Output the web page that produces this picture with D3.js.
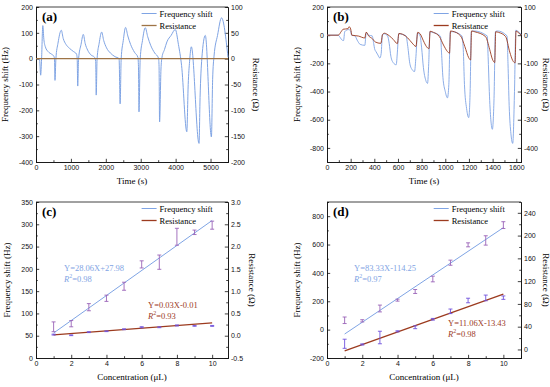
<!DOCTYPE html>
<html>
<head>
<meta charset="utf-8">
<script src="https://cdn.jsdelivr.net/npm/d3@7"></script>
<style>
  body { margin: 0; background: #fff; }
  svg { font-family: "Liberation Serif", "Times New Roman", serif; }
  .tick text { font-size: 7px; fill: #111; }
  .domain, .tick line { stroke: #111; stroke-width: 0.8; }
</style>
</head>
<body>
<script>
// ---- panel (a): time series
const timeA = [0,100,134,160,195,225,270,350,450,510,530,544,570,630,725,780,860,960,1070,1160,1180,1195,1220,1290,1355,1410,1480,1570,1680,1710,1725,1750,1810,1880,1940,2020,2130,2260,2380,2410,2440,2500,2566,2630,2710,2820,2920,2935,2950,2985,3050,3130,3200,3290,3400,3510,3525,3540,3580,3610,3680,3750,3870,3990,4080,4170,4320,4360,4400,4450,4670,4700,4750,4850,5025,5060,5100,5200,5314,5500]
const freqA = [0,0,-64,0,128,75,45,27,17,10,0,-84,0,60,110,78,55,40,28,18,0,-106,0,55,94,58,33,15,5,-10,-141,0,60,103,70,42,22,8,0,-175,0,70,121,88,55,25,5,-30,-206,0,70,120,85,50,22,2,-30,-245,-40,6,35,65,90,113,55,-26,-283,-100,-10,46,-328,-150,0,90,-303,-80,10,90,158,5]
const resTimeA = [0,1000,2000,3000,4000,5000,5500]
const resA = [0,0,0,0,0,0,0]

// ---- panel (b): time series
const timeB = [0,95,110,128,140,150,165,180,200,208,236,255,280,320,330,336,350,382,395,402,415,430,447,458,468,484,512,526,540,560,585,595,606,640,668,683,700,720,740,752,765,787,800,815,835,850,860,870,890,940,960,968,980,1000,1018,1030,1042,1060,1140,1152,1162,1180,1198,1210,1220,1240,1354,1362,1372,1385,1398,1412,1424,1440,1522,1530,1540,1555,1570,1585,1596,1610,1643]
const freqB = [0,0,-15,-35,-38,25,35,40,30,0,-5,-35,-65,-72,10,15,0,-5,-60,-95,-118,-140,-162,-130,0,10,-5,-60,-150,-195,-210,-120,10,5,-5,-80,-200,-245,-258,-150,15,-5,-90,-230,-320,-342,-200,25,20,5,-10,-120,-300,-400,-445,-350,20,25,-5,-100,-350,-520,-585,-400,25,30,-5,-150,-400,-600,-668,-450,25,30,-5,-200,-500,-700,-768,-400,35,30,5]
const resTimeB = [0,95,122,136,178,186,200,210,265,320,330,338,348,385,408,455,470,484,526,560,595,608,640,683,720,752,767,787,815,840,862,872,900,950,985,1018,1036,1044,1060,1130,1165,1198,1214,1222,1250,1340,1375,1398,1418,1426,1450,1510,1545,1570,1590,1598,1615,1643]
const resB = [0,0,14,21,23,30,22,0,-3,-10,10,9,0,-13,-24,-29,3,7,-2,-15,-30,6,3,-10,-28,-40,10,5,-20,-40,-48,14,10,-5,-35,-58,-64,15,14,-3,-40,-80,-88,15,12,-5,-50,-85,-97,12,10,-5,-60,-90,-98,15,10,0]

// ---- panels (c), (d): calibration
const conc = [1,2,3,4,5,6,7,8,9,10]
const freqC = [70,77,114,134,161,210,215,272,282,298]
const freqErrC = [11,7,8,7,9,8,16,19,5,9]
const resC = [0.025,0.01,0.08,0.1,0.145,0.19,0.19,0.23,0.22,0.22]
const resErrC = [0.01,0.008,0.01,0.008,0.01,0.012,0.01,0.012,0.008,0.01]
const fitFreqC = [28.06, 27.98]
const fitResC = [0.03, -0.01]
const r2C = [0.98, 0.93]

const freqD = [66,62,149,208,269,357,472,598,629,737]
const freqErrD = [23,8,24,7,14,20,18,14,33,24]
const resD = [10,8.8,21,31.8,39,53,67,86,90.5,91]
const resErrD = [8,1,11,1,2.5,1.5,4,4,5,3]
const fitFreqD = [83.33, -114.25]
const fitResD = [11.06, -13.43]
const r2D = [0.97, 0.98]

// ---- ticks
const ticksXA = [0,1000,2000,3000,4000,5000]
const ticksLA = [-400,-300,-200,-100,0,100,200]
const ticksRA = [-200,-150,-100,-50,0,50,100]
const ticksXB = [0,200,400,600,800,1000,1200,1400,1600]
const ticksLB = [-800,-600,-400,-200,0,200]
const ticksRB = [-400,-300,-200,-100,0,100]
const ticksXC = [0,2,4,6,8,10]
const ticksLC = [0,50,100,150,200,250,300,350]
const ticksRC = [-0.5,0,0.5,1.0,1.5,2.0,2.5,3.0]
const ticksLD = [-200,0,200,400,600,800]
const ticksRD = [0,40,80,120,160,200,240]

const freqColor = '#7fa4e4'
const resColor = '#9c3b1f'
const errFreq = '#9a63b8'
const errRes = '#7052dc'

const svg = d3.select('body').append('svg')
  .attr('width', 550)
  .attr('height', 387)

// minor ticks halfway between majors
function mids(t) {
  const step = t[1] - t[0]
  const out = []
  for (let i = 0; i < t.length; i++) out.push(+(t[i] + step / 2).toFixed(4))
  return out
}

function panel(box, cfg) {
  const w = box.x1 - box.x0
  const h = box.y1 - box.y0
  const g = svg.append('g').attr('transform', `translate(${box.x0},${box.y0})`)

  const x = d3.scaleLinear().domain(cfg.xDom).range([0, w])
  const yL = d3.scaleLinear().domain(cfg.lDom).range([h, 0])
  const yR = d3.scaleLinear().domain(cfg.rDom).range([h, 0])
  const fmtL = cfg.lFmt || (d => String(d))
  const fmtR = cfg.rFmt || (d => String(d))

  const inDom = (s, arr) => arr.filter(v => v >= s.domain()[0] - 1e-9 && v <= s.domain()[1] + 1e-9)

  // minor ticks
  g.append('g').attr('transform', `translate(0,${h})`)
    .call(d3.axisBottom(x).tickValues(inDom(x, mids(cfg.xTicks))).tickSize(-1.8).tickFormat(''))
  g.append('g')
    .call(d3.axisLeft(yL).tickValues(inDom(yL, mids(cfg.lTicks))).tickSize(-1.8).tickFormat(''))
  g.append('g').attr('transform', `translate(${w},0)`)
    .call(d3.axisRight(yR).tickValues(inDom(yR, mids(cfg.rTicks))).tickSize(-1.8).tickFormat(''))

  // major ticks
  g.append('g').attr('transform', `translate(0,${h})`)
    .call(d3.axisBottom(x).tickValues(cfg.xTicks).tickSize(-3.2).tickSizeOuter(0).tickPadding(3).tickFormat(d => String(d)))
  g.append('g')
    .call(d3.axisLeft(yL).tickValues(cfg.lTicks).tickSize(-3.2).tickSizeOuter(0).tickPadding(3).tickFormat(fmtL))
  g.append('g').attr('transform', `translate(${w},0)`)
    .call(d3.axisRight(yR).tickValues(cfg.rTicks).tickSize(-3.2).tickSizeOuter(0).tickPadding(3).tickFormat(fmtR))
  g.append('line').attr('x1', 0).attr('x2', w).attr('y1', 0).attr('y2', 0)
    .attr('stroke', '#111').attr('stroke-width', 0.8)

  // titles
  g.append('text').attr('x', w / 2).attr('y', h + 22)
    .attr('text-anchor', 'middle').attr('font-size', 9).text(cfg.xLabel)
  g.append('text').attr('transform', `translate(${-cfg.lPad},${h / 2}) rotate(-90)`)
    .attr('text-anchor', 'middle').attr('font-size', 9).text('Frequency shift (Hz)')
  g.append('text').attr('transform', `translate(${w + cfg.rPad},${h / 2}) rotate(90)`)
    .attr('text-anchor', 'middle').attr('font-size', 9).text('Resistance (Ω)')

  g.append('text').attr('x', 6).attr('y', 14)
    .attr('font-size', 13).attr('font-weight', 'bold').text(cfg.tag)

  // legend
  const lx = w * 0.55
  ;[['Frequency shift', freqColor, 6.5], ['Resistance', cfg.resColor || resColor, 18.5]].forEach(([name, col, ly]) => {
    g.append('line').attr('x1', lx).attr('x2', lx + 15).attr('y1', ly).attr('y2', ly)
      .attr('stroke', col).attr('stroke-width', name === 'Resistance' ? 1.3 : 1)
    g.append('text').attr('x', lx + 18).attr('y', ly + 3).attr('font-size', 8.5).text(name)
  })

  return {g, x, yL, yR, w, h}
}

function series(p, xs, ys, scale, color, width) {
  const pts = xs.map((t, i) => [t, ys[i]])
  p.g.append('path').datum(pts)
    .attr('fill', 'none').attr('stroke', color).attr('stroke-width', width)
    .attr('stroke-linejoin', 'round')
    .attr('d', d3.line().x(d => p.x(d[0])).y(d => scale(d[1])).curve(d3.curveMonotoneX))
}

function errorBars(p, vals, errs, scale, color) {
  const g = p.g.append('g').attr('stroke', color).attr('stroke-width', 0.9)
  conc.forEach((c, i) => {
    const cx = p.x(c)
    const top = scale(vals[i] + errs[i]), bot = scale(vals[i] - errs[i])
    g.append('line').attr('x1', cx).attr('x2', cx).attr('y1', top).attr('y2', bot)
    g.append('line').attr('x1', cx - 2).attr('x2', cx + 2).attr('y1', top).attr('y2', top)
    g.append('line').attr('x1', cx - 2).attr('x2', cx + 2).attr('y1', bot).attr('y2', bot)
  })
}

function fitLine(p, fit, scale, color, width) {
  const xs = [conc[0], conc[conc.length - 1]]
  p.g.append('line')
    .attr('x1', p.x(xs[0])).attr('y1', scale(fit[0] * xs[0] + fit[1]))
    .attr('x2', p.x(xs[1])).attr('y2', scale(fit[0] * xs[1] + fit[1]))
    .attr('stroke', color).attr('stroke-width', width)
}

function fitText(p, fx, fy, fit, r2, color) {
  const sign = fit[1] < 0 ? '-' : '+'
  p.g.append('text').attr('x', fx).attr('y', fy).attr('font-size', 8.5).attr('fill', color)
    .text(`Y=${fit[0].toFixed(2)}X${sign}${Math.abs(fit[1]).toFixed(2)}`)
  const t = p.g.append('text').attr('x', fx).attr('y', fy + 10.5).attr('font-size', 8.5).attr('fill', color)
  t.append('tspan').attr('font-style', 'italic').text('R')
  t.append('tspan').attr('dy', -3.5).attr('font-size', 6).text('2')
  t.append('tspan').attr('dy', 3.5).text('=' + r2.toFixed(2))
}

// (a)
const pa = panel({x0: 36, x1: 228, y0: 7, y1: 162}, {
  tag: '(a)', xDom: [0, 5500], lDom: [-400, 200], rDom: [-200, 100],
  xTicks: ticksXA, lTicks: ticksLA, rTicks: ticksRA, xLabel: 'Time (s)',
  lPad: 28, rPad: 25, resColor: '#9e7446'
})
series(pa, timeA, freqA, pa.yL, freqColor, 1)
series(pa, resTimeA, resA, pa.yR, '#9e7446', 1.3)

// (b)
const pb = panel({x0: 327, x1: 521, y0: 7, y1: 162}, {
  tag: '(b)', xDom: [0, 1640], lDom: [-900, 200], rDom: [-450, 100],
  xTicks: ticksXB, lTicks: ticksLB, rTicks: ticksRB, xLabel: 'Time (s)',
  lPad: 27, rPad: 22
})
series(pb, timeB, freqB, pb.yL, freqColor, 0.9)
series(pb, resTimeB, resB, pb.yR, resColor, 0.9)

// (c)
const pc = panel({x0: 36, x1: 228, y0: 202, y1: 358}, {
  tag: '(c)', xDom: [0, 10.9], lDom: [0, 350], rDom: [-0.5, 3.0],
  xTicks: ticksXC, lTicks: ticksLC, rTicks: ticksRC, xLabel: 'Concentration (μL)',
  lPad: 26, rPad: 21, rFmt: d => d.toFixed(1)
})
fitLine(pc, fitFreqC, pc.yL, freqColor, 1)
fitLine(pc, fitResC, pc.yR, resColor, 1.3)
errorBars(pc, freqC, freqErrC, pc.yL, errFreq)
errorBars(pc, resC, resErrC, pc.yR, errRes)
fitText(pc, 28, 69, fitFreqC, r2C[0], freqColor)
fitText(pc, 112, 106, fitResC, r2C[1], resColor)

// (d)
const pd = panel({x0: 327, x1: 521, y0: 202, y1: 358}, {
  tag: '(d)', xDom: [0, 11], lDom: [-200, 900], rDom: [-15, 259],
  xTicks: ticksXC, lTicks: ticksLD, rTicks: ticksRD, xLabel: 'Concentration (μL)',
  lPad: 27, rPad: 22
})
fitLine(pd, fitFreqD, pd.yL, freqColor, 1)
fitLine(pd, fitResD, pd.yR, resColor, 1.3)
errorBars(pd, freqD, freqErrD, pd.yL, errFreq)
errorBars(pd, resD, resErrD, pd.yR, errRes)
fitText(pd, 27, 69, fitFreqD, r2D[0], freqColor)
fitText(pd, 121, 124, fitResD, r2D[1], resColor)
</script>
</body>
</html>
